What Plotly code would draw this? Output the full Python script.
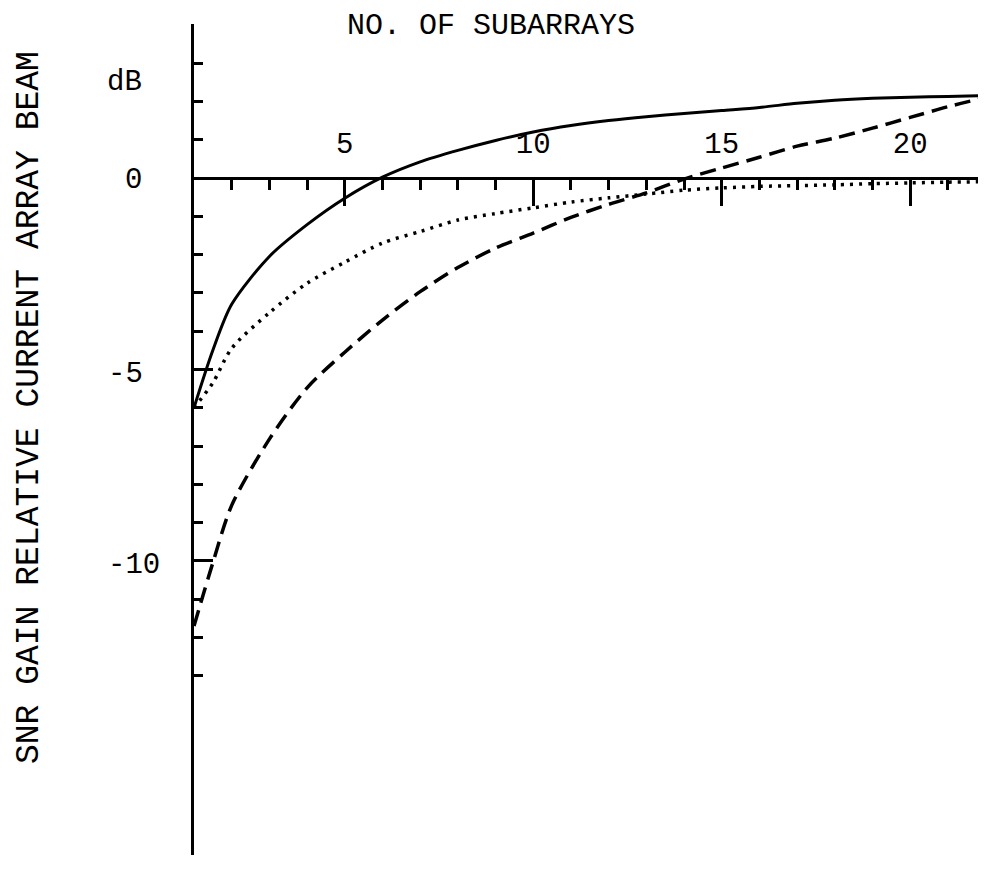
import plotly.graph_objects as go

# ---- data ----
subarrays = [1, 1.5, 2, 3, 4, 5, 6, 7, 8, 9, 10, 11, 12, 13, 14, 15, 16, 17, 18, 19, 20, 21, 22]
solid_db = [-6.0, -4.5, -3.3, -2.05, -1.22, -0.53, 0.02, 0.42, 0.72, 0.98, 1.2, 1.37, 1.5, 1.6,
            1.68, 1.76, 1.84, 1.95, 2.03, 2.08, 2.11, 2.13, 2.15]
dotted_db = [-6.0, -5.35, -4.45, -3.52, -2.75, -2.2, -1.7, -1.4, -1.1, -0.93, -0.78, -0.63, -0.52,
             -0.42, -0.32, -0.26, -0.22, -0.2, -0.18, -0.15, -0.13, -0.11, -0.1]
dashed_db = [-11.7, -10.05, -8.55, -6.82, -5.48, -4.55, -3.71, -2.97, -2.34, -1.83, -1.44, -1.03,
             -0.69, -0.39, -0.03, 0.26, 0.54, 0.83, 1.04, 1.3, 1.58, 1.86, 2.1]

x_tick_vals = [5, 10, 15, 20]
x_tick_text = ["5", "10", "15", "20"]
x_minor_vals = list(range(2, 22))
y_tick_vals = [0, -5, -10]
y_tick_text = ["0", "-5", "-10"]
y_major_marks = [-5, -10]
y_minor_vals = [3, 2, 1, -1, -2, -3, -4, -6, -7, -8, -9, -11, -12, -13]

title_text = "NO. OF SUBARRAYS"
y_title_text = "SNR GAIN RELATIVE CURRENT ARRAY BEAM"
unit_text = "dB"

# ---- figure ----
FONT = "Liberation Mono"
Y_MIN, Y_MAX = -17.68, 4.02
X_MIN, X_MAX = 1, 21.8

# page body has an 8px default margin; size the figure so it fits the 986x875 window
W, H = 970, 859

fig = go.Figure()
fig.add_trace(go.Scatter(x=subarrays, y=solid_db, mode="lines",
                         line=dict(color="black", width=3, shape="spline", smoothing=0.8)))
fig.add_trace(go.Scatter(x=subarrays, y=dotted_db, mode="lines",
                         line=dict(color="black", width=3.5, dash="3px,6px", shape="spline", smoothing=0.8)))
fig.add_trace(go.Scatter(x=subarrays, y=dashed_db, mode="lines",
                         line=dict(color="black", width=3.5, dash="16px,8px", shape="spline", smoothing=0.8)))

zero_pos = (0 - Y_MIN) / (Y_MAX - Y_MIN)

fig.update_layout(
    width=W, height=H,
    margin=dict(l=186, r=0, t=16, b=12, autoexpand=False),
    paper_bgcolor="white", plot_bgcolor="white",
    showlegend=False,
    font=dict(family=FONT, color="black"),
    title=dict(text=title_text, x=(491 - 8) / W, y=1 - 15 / H, xanchor="center", yanchor="middle",
               font=dict(family=FONT, size=30, color="black")),
    xaxis=dict(range=[X_MIN, X_MAX], side="top", anchor="free", position=zero_pos, automargin=False,
               showline=True, linewidth=3, linecolor="black", showgrid=False, zeroline=False,
               ticks="inside", tickvals=x_tick_vals, ticktext=x_tick_text, ticklen=26,
               tickwidth=2.5, tickcolor="black", ticklabelstandoff=12,
               tickfont=dict(family=FONT, size=29, color="black"),
               minor=dict(tickvals=x_minor_vals, ticks="inside", ticklen=10, tickwidth=2.5,
                          tickcolor="black")),
    yaxis=dict(range=[Y_MIN, Y_MAX], automargin=False, showline=True, linewidth=3, linecolor="black",
               showgrid=False, zeroline=False, showticklabels=False,
               ticks="inside", tickvals=y_major_marks, ticklen=19, tickwidth=2.5, tickcolor="black",
               minor=dict(tickvals=y_minor_vals, ticks="inside", ticklen=9, tickwidth=2.5,
                          tickcolor="black")),
)

# y tick labels (left of axis)
for v, t in zip(y_tick_vals, y_tick_text):
    if t.startswith("-"):
        fig.add_annotation(x=0, xref="paper", y=v, yref="y", text=t, showarrow=False,
                           xanchor="left", xshift=-88, yshift=-5,
                           font=dict(family=FONT, size=29, color="black"))
    else:
        fig.add_annotation(x=0, xref="paper", y=v, yref="y", text=t, showarrow=False,
                           xanchor="right", xshift=-50, yshift=-3,
                           font=dict(family=FONT, size=29, color="black"))

# unit label
fig.add_annotation(x=0, xref="paper", y=2.48, yref="y", text=unit_text, showarrow=False,
                   xanchor="right", xshift=-50, font=dict(family=FONT, size=29, color="black"))

# rotated y-axis title
fig.add_annotation(x=0, xref="paper", y=(855 - 408) / 831, yref="paper", text=y_title_text,
                   showarrow=False, textangle=-90, xanchor="center", yanchor="middle",
                   xshift=-165, font=dict(family=FONT, size=33, color="black"))

fig.write_html("out.html")
